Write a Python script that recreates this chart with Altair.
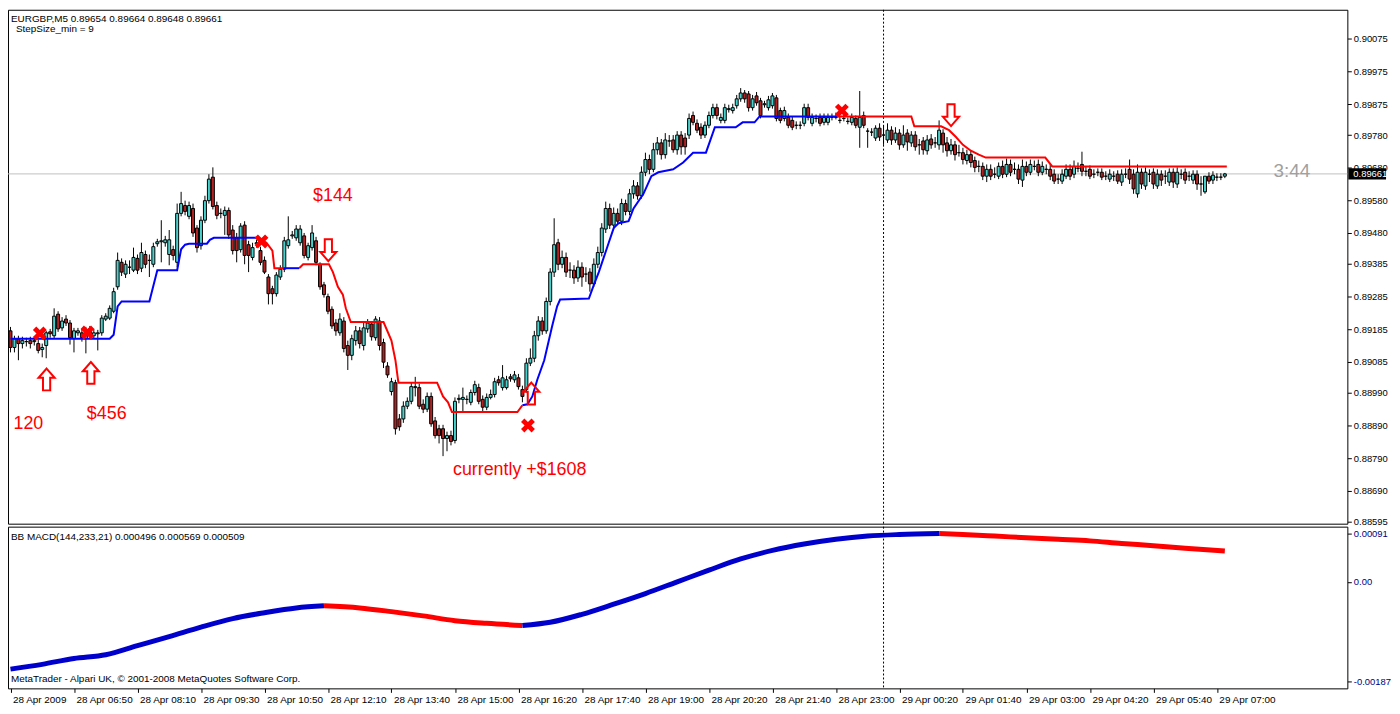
import altair as alt
import pandas as pd

W, H1, H2 = 1350, 518, 163
FONT = "Liberation Sans"
BULL, BEAR = "#48D1CC", "#B22222"

# ---------------- data (prices in points of 0.00001) ----------------
OPEN = [
 89180, 89129, 89156, 89141, 89147, 89150, 89147, 89141, 89123, 89135,
 89177, 89165, 89231, 89189, 89216, 89204, 89156, 89174, 89174, 89156,
 89186, 89165, 89171, 89174, 89216, 89219, 89240, 89315, 89390, 89354,
 89375, 89366, 89402, 89372, 89414, 89396, 89384, 89447, 89453, 89450,
 89414, 89429, 89390, 89540, 89564, 89531, 89555, 89495, 89441, 89519,
 89579, 89651, 89564, 89540, 89534, 89549, 89489, 89465, 89429, 89504,
 89444, 89405, 89447, 89426, 89396, 89345, 89309, 89294, 89345, 89369,
 89441, 89471, 89465, 89450, 89471, 89405, 89435, 89456, 89384, 89321,
 89285, 89246, 89204, 89174, 89210, 89135, 89105, 89150, 89180, 89135,
 89186, 89201, 89159, 89210, 89144, 89072, 88994, 89021, 88910, 88910,
 88949, 88964, 89006, 89006, 88955, 88940, 88979, 88904, 88880, 88880,
 88850, 88859, 88844, 88970, 88970, 88970, 88961, 88991, 89006, 88970,
 88946, 88976, 88985, 89030, 89006, 89006, 89039, 89030, 89036, 89000,
 89000, 89081, 89096, 89165, 89210, 89180, 89270, 89360, 89450, 89384,
 89405, 89366, 89366, 89342, 89375, 89354, 89360, 89324, 89384, 89420,
 89492, 89555, 89504, 89540, 89516, 89570, 89546, 89600, 89624, 89594,
 89666, 89705, 89675, 89735, 89756, 89720, 89762, 89765, 89735, 89780,
 89771, 89780, 89840, 89816, 89804, 89780, 89810, 89840, 89864, 89825,
 89825, 89858, 89855, 89870, 89891, 89909, 89906, 89864, 89900, 89885,
 89873, 89864, 89870, 89894, 89855, 89831, 89834, 89825, 89810, 89810,
 89816, 89864, 89816, 89831, 89834, 89819, 89819, 89834, 89834, 89825,
 89831, 89822, 89819, 89831, 89804, 89840, 89792, 89789, 89771, 89801,
 89780, 89765, 89795, 89765, 89786, 89750, 89786, 89756, 89780, 89750,
 89762, 89732, 89768, 89756, 89750, 89786, 89756, 89732, 89750, 89726,
 89726, 89702, 89720, 89702, 89684, 89684, 89654, 89675, 89660, 89654,
 89684, 89660, 89690, 89675, 89675, 89642, 89684, 89666, 89684, 89690,
 89666, 89675, 89675, 89660, 89645, 89639, 89654, 89675, 89660, 89678,
 89690, 89669, 89675, 89660, 89666, 89666, 89654, 89645, 89654, 89660,
 89636, 89660, 89675, 89660, 89600, 89666, 89624, 89660, 89666, 89624,
 89660, 89654, 89636, 89666, 89630, 89660, 89666, 89654, 89642, 89660,
 89630, 89606, 89654, 89642, 89651, 89651, 89654,
]
HIGH = [
 89192, 89165, 89165, 89162, 89159, 89162, 89162, 89153, 89141, 89180,
 89186, 89249, 89240, 89222, 89228, 89213, 89189, 89189, 89186, 89192,
 89195, 89186, 89183, 89228, 89234, 89258, 89312, 89420, 89402, 89396,
 89396, 89435, 89414, 89450, 89426, 89414, 89450, 89462, 89519, 89471,
 89489, 89441, 89570, 89606, 89579, 89576, 89570, 89504, 89531, 89594,
 89660, 89681, 89576, 89555, 89561, 89558, 89504, 89480, 89510, 89516,
 89456, 89450, 89459, 89438, 89408, 89354, 89318, 89360, 89381, 89468,
 89531, 89486, 89504, 89504, 89480, 89450, 89504, 89468, 89390, 89330,
 89294, 89255, 89216, 89234, 89222, 89150, 89168, 89195, 89192, 89204,
 89216, 89210, 89225, 89222, 89156, 89084, 89036, 89030, 88925, 88964,
 88976, 89021, 89039, 89018, 88970, 88991, 88991, 88916, 88892, 88892,
 88871, 88874, 88976, 88985, 89006, 88982, 89000, 89027, 89018, 88982,
 88988, 89000, 89036, 89042, 89075, 89042, 89048, 89057, 89048, 89012,
 89096, 89126, 89180, 89225, 89222, 89282, 89372, 89525, 89462, 89426,
 89420, 89390, 89381, 89396, 89390, 89375, 89372, 89402, 89438, 89510,
 89576, 89570, 89558, 89555, 89585, 89582, 89615, 89642, 89636, 89684,
 89726, 89720, 89756, 89774, 89768, 89786, 89780, 89780, 89792, 89792,
 89786, 89846, 89852, 89828, 89816, 89822, 89852, 89876, 89876, 89846,
 89876, 89873, 89876, 89903, 89924, 89918, 89915, 89903, 89912, 89894,
 89885, 89900, 89909, 89903, 89864, 89867, 89846, 89837, 89822, 89822,
 89876, 89876, 89846, 89843, 89846, 89846, 89846, 89846, 89849, 89837,
 89843, 89834, 89846, 89840, 89915, 89852, 89801, 89801, 89810, 89816,
 89810, 89816, 89807, 89804, 89798, 89810, 89798, 89792, 89792, 89768,
 89774, 89780, 89783, 89774, 89825, 89798, 89774, 89768, 89762, 89750,
 89741, 89735, 89732, 89714, 89702, 89696, 89690, 89690, 89681, 89696,
 89702, 89708, 89705, 89696, 89690, 89705, 89699, 89705, 89702, 89705,
 89699, 89690, 89690, 89675, 89660, 89675, 89690, 89690, 89702, 89696,
 89729, 89684, 89687, 89675, 89678, 89678, 89669, 89675, 89669, 89672,
 89675, 89678, 89705, 89675, 89690, 89678, 89681, 89675, 89678, 89675,
 89672, 89672, 89678, 89678, 89681, 89675, 89678, 89669, 89672, 89672,
 89654, 89654, 89666, 89669, 89663, 89663, 89664,
]
LOW = [
 89114, 89114, 89090, 89126, 89132, 89126, 89135, 89111, 89099, 89096,
 89159, 89156, 89177, 89180, 89195, 89138, 89114, 89165, 89147, 89111,
 89159, 89156, 89120, 89165, 89210, 89213, 89234, 89306, 89348, 89342,
 89354, 89360, 89354, 89360, 89372, 89345, 89375, 89438, 89390, 89438,
 89381, 89396, 89375, 89531, 89534, 89522, 89468, 89420, 89429, 89510,
 89570, 89552, 89522, 89525, 89474, 89462, 89414, 89390, 89420, 89384,
 89360, 89396, 89435, 89381, 89354, 89261, 89261, 89285, 89336, 89360,
 89432, 89462, 89456, 89441, 89402, 89396, 89426, 89381, 89306, 89282,
 89231, 89186, 89165, 89165, 89114, 89060, 89090, 89135, 89126, 89120,
 89174, 89150, 89150, 89120, 89066, 89036, 88982, 88862, 88874, 88898,
 88940, 88955, 88979, 88940, 88928, 88931, 88886, 88850, 88835, 88796,
 88811, 88829, 88835, 88958, 88931, 88955, 88952, 88982, 88955, 88934,
 88937, 88970, 88976, 89012, 88997, 89000, 89024, 89021, 89000, 88961,
 88991, 89072, 89084, 89150, 89168, 89171, 89258, 89345, 89366, 89372,
 89345, 89342, 89324, 89330, 89315, 89330, 89300, 89315, 89372, 89408,
 89480, 89492, 89492, 89504, 89504, 89534, 89534, 89585, 89582, 89585,
 89654, 89660, 89666, 89720, 89705, 89708, 89744, 89726, 89720, 89720,
 89720, 89768, 89810, 89786, 89768, 89771, 89801, 89831, 89828, 89816,
 89816, 89849, 89846, 89861, 89882, 89879, 89852, 89855, 89870, 89831,
 89864, 89855, 89861, 89822, 89816, 89822, 89801, 89795, 89798, 89798,
 89807, 89825, 89807, 89819, 89807, 89810, 89810, 89825, 89828, 89816,
 89822, 89813, 89810, 89801, 89741, 89801, 89741, 89777, 89762, 89762,
 89750, 89756, 89750, 89756, 89735, 89741, 89732, 89744, 89732, 89720,
 89720, 89720, 89738, 89741, 89735, 89726, 89714, 89720, 89702, 89714,
 89690, 89690, 89681, 89666, 89666, 89642, 89636, 89642, 89648, 89645,
 89648, 89651, 89654, 89660, 89630, 89621, 89654, 89657, 89672, 89654,
 89657, 89660, 89642, 89630, 89630, 89630, 89645, 89642, 89648, 89666,
 89654, 89654, 89645, 89648, 89654, 89642, 89642, 89636, 89639, 89630,
 89624, 89648, 89630, 89600, 89588, 89615, 89612, 89636, 89615, 89615,
 89624, 89630, 89624, 89618, 89618, 89645, 89630, 89639, 89630, 89612,
 89594, 89600, 89630, 89630, 89639, 89642, 89648,
]
CLOSE = [
 89129, 89156, 89141, 89150, 89147, 89141, 89150, 89120, 89129, 89174,
 89171, 89225, 89186, 89210, 89204, 89159, 89180, 89180, 89159, 89180,
 89171, 89174, 89174, 89219, 89225, 89249, 89300, 89396, 89360, 89384,
 89375, 89405, 89366, 89420, 89384, 89396, 89438, 89453, 89456, 89459,
 89459, 89411, 89540, 89570, 89546, 89564, 89480, 89435, 89519, 89579,
 89645, 89561, 89534, 89540, 89549, 89474, 89426, 89426, 89501, 89411,
 89411, 89435, 89450, 89390, 89360, 89294, 89294, 89351, 89369, 89456,
 89459, 89474, 89492, 89492, 89411, 89441, 89480, 89390, 89315, 89291,
 89240, 89195, 89180, 89216, 89126, 89105, 89156, 89180, 89141, 89189,
 89204, 89162, 89216, 89135, 89084, 89045, 89024, 88880, 88886, 88949,
 88964, 89009, 89009, 88949, 88940, 88979, 88895, 88859, 88859, 88850,
 88859, 88841, 88964, 88973, 88976, 88970, 88991, 89015, 88964, 88946,
 88976, 88985, 89024, 89021, 89036, 89030, 89033, 89045, 89009, 88979,
 89081, 89096, 89165, 89210, 89180, 89270, 89360, 89444, 89384, 89405,
 89360, 89366, 89342, 89375, 89345, 89354, 89324, 89384, 89420, 89495,
 89555, 89504, 89540, 89516, 89570, 89546, 89600, 89624, 89594, 89666,
 89705, 89675, 89735, 89756, 89720, 89765, 89762, 89735, 89780, 89744,
 89744, 89831, 89819, 89795, 89780, 89810, 89840, 89864, 89840, 89834,
 89864, 89861, 89864, 89891, 89909, 89891, 89864, 89891, 89879, 89840,
 89876, 89888, 89900, 89831, 89825, 89855, 89810, 89804, 89810, 89810,
 89864, 89834, 89834, 89831, 89816, 89834, 89834, 89834, 89837, 89825,
 89831, 89822, 89834, 89810, 89834, 89810, 89792, 89789, 89801, 89774,
 89780, 89795, 89765, 89786, 89750, 89780, 89759, 89780, 89744, 89750,
 89735, 89765, 89750, 89756, 89795, 89750, 89732, 89750, 89720, 89726,
 89705, 89720, 89696, 89681, 89684, 89654, 89675, 89654, 89660, 89684,
 89660, 89690, 89666, 89675, 89645, 89684, 89666, 89690, 89684, 89666,
 89684, 89675, 89654, 89639, 89645, 89660, 89675, 89654, 89684, 89678,
 89669, 89669, 89654, 89660, 89666, 89651, 89654, 89660, 89654, 89639,
 89660, 89660, 89645, 89615, 89666, 89630, 89666, 89660, 89630, 89660,
 89642, 89654, 89666, 89636, 89666, 89660, 89642, 89654, 89660, 89630,
 89630, 89654, 89639, 89657, 89651, 89651, 89661,
]

# trailing stop lines: (segment, bar, price points)
BLUE_TRAIL = [
 (1, 0, 89156), (1, 25, 89156), (1, 26, 89168), (1, 27, 89255), (1, 28, 89270),
 (1, 35, 89270), (1, 37, 89366), (1, 42, 89366), (1, 43, 89430), (1, 44, 89444),
 (1, 45, 89447), (1, 49.5, 89447), (1, 50.25, 89459), (1, 51.25, 89465), (1, 62.5, 89465),
 (2, 68.75, 89372), (2, 72.75, 89372),
 (3, 129, 88952), (3, 130.25, 88955), (3, 131.5, 88979), (3, 132.75, 89030),
 (3, 134.5, 89090), (3, 136.5, 89195), (3, 137.75, 89255), (3, 138.5, 89276),
 (3, 145.75, 89279), (3, 147, 89321), (3, 148.25, 89360), (3, 149.5, 89405),
 (3, 150.75, 89450), (3, 152, 89495), (3, 153.25, 89510), (3, 155.75, 89516),
 (3, 157, 89555), (3, 159.5, 89600), (3, 161.5, 89654), (3, 163.25, 89666),
 (3, 167, 89675), (3, 169.5, 89696), (3, 172, 89726), (3, 175.25, 89726),
 (3, 177.5, 89804), (3, 182.75, 89804), (3, 184.5, 89819), (3, 187.5, 89819),
 (3, 188.75, 89837), (3, 208.25, 89837),
]
RED_TRAIL = [
 (1, 62.5, 89465), (1, 64.5, 89450), (1, 66, 89426), (1, 66.5, 89372), (1, 68.75, 89372),
 (2, 72.75, 89372), (2, 73.75, 89384), (2, 80.25, 89384), (2, 81.25, 89360),
 (2, 82.5, 89315), (2, 83.75, 89291), (2, 84.5, 89249), (2, 85.75, 89207),
 (2, 94, 89207), (2, 96, 89150), (2, 97, 89090), (2, 97.75, 89021),
 (2, 107.5, 89021), (2, 109, 88979), (2, 110.25, 88961), (2, 111.25, 88931),
 (2, 127.75, 88931), (2, 129, 88952),
 (3, 208.25, 89837), (3, 227, 89837), (3, 227.75, 89807), (3, 234.5, 89807),
 (3, 236.5, 89795), (3, 238.25, 89774), (3, 240, 89750), (3, 242, 89732),
 (3, 244, 89720), (3, 245.75, 89711), (3, 260.75, 89711), (3, 262.5, 89684),
 (3, 306.5, 89684),
]

# signal markers: (bar, price points)
X_MARKS = [(7.4, 89172), (19.4, 89175), (63.25, 89454), (130.4, 88890), (209.5, 89855)]
UP_ARROWS = [(9.1, 89031), (20.25, 89051), (131.25, 88988)]
DOWN_ARROWS = [(80.1, 89427), (237, 89841)]

# red text notes: (bar, price points, text)
NOTES = [(0.75, 88895, "120"), (19.25, 88926, "$456"), (76.25, 89594, "$144"),
         (111.5, 88754, "currently +$1608")]

BID = 89661
COUNTDOWN = (318.25, 89669, "3:44")
VLINE_BAR = 220

# MACD (units of 0.00001)
MACD_BARS = [0, 8, 16, 24, 32, 40, 48, 56, 64, 72, 79, 88, 96, 104, 112, 120, 129,
             136, 144, 152, 160, 168, 176, 184, 192, 200, 208, 216, 224, 234, 240,
             248, 256, 264, 272, 280, 288, 296, 306]
MACD_VALS = [-164, -155, -144, -137, -120, -103, -85, -69, -58, -49, -45, -49, -56,
             -64, -73, -78, -82, -76, -61, -42, -22, 0, 22, 43, 59, 71, 80, 86, 89,
             91, 89, 86, 83, 80, 77, 72, 68, 63, 58]
MACD_TURNS = [79, 129, 234]
MACD_COLORS = ["rising", "falling", "rising", "falling"]

Y_TICKS = [0.90075, 0.89975, 0.89875, 0.89780, 0.89680, 0.89580, 0.89480, 0.89385,
           0.89285, 0.89185, 0.89085, 0.88990, 0.88890, 0.88790, 0.88690, 0.88595]
MACD_TICKS = [0.00091, 0.0, -0.00187]
X_TICK_LABELS = ["28 Apr 2009", "28 Apr 06:50", "28 Apr 08:10", "28 Apr 09:30",
                 "28 Apr 10:50", "28 Apr 12:10", "28 Apr 13:40", "28 Apr 15:00",
                 "28 Apr 16:20", "28 Apr 17:40", "28 Apr 19:00", "28 Apr 20:20",
                 "28 Apr 21:40", "28 Apr 23:00", "29 Apr 00:20", "29 Apr 01:40",
                 "29 Apr 03:00", "29 Apr 04:20", "29 Apr 05:40", "29 Apr 07:00"]
X_TICK_STEP = 16

HEADER1 = "EURGBP,M5  0.89654 0.89664 0.89648 0.89661"
HEADER2 = "StepSize_min = 9"
MACD_TITLE = "BB MACD(144,233,21) 0.000496 0.000569 0.000509"
FOOTER = "MetaTrader - Alpari UK, \u00a9 2001-2008 MetaQuotes Software Corp."

# ---------------- frames ----------------
P = 1e5
n = min(len(OPEN), len(HIGH), len(LOW), len(CLOSE))
candles = pd.DataFrame({
    "bar": list(range(n)),
    "open": [v / P for v in OPEN[:n]],
    "high": [v / P for v in HIGH[:n]],
    "low": [v / P for v in LOW[:n]],
    "close": [v / P for v in CLOSE[:n]],
})
candles["dir"] = ["up" if c >= o else "down" for o, c in zip(candles["open"], candles["close"])]

blue_df = pd.DataFrame([{"seg": s, "bar": b, "p": v / P} for s, b, v in BLUE_TRAIL])
red_df = pd.DataFrame([{"seg": s, "bar": b, "p": v / P} for s, b, v in RED_TRAIL])
x_df = pd.DataFrame([{"bar": b, "p": v / P} for b, v in X_MARKS])
up_df = pd.DataFrame([{"bar": b, "p": v / P} for b, v in UP_ARROWS])
dn_df = pd.DataFrame([{"bar": b, "p": v / P} for b, v in DOWN_ARROWS])
note_df = pd.DataFrame([{"bar": b, "p": v / P, "t": t} for b, v, t in NOTES])

edges = [-1e9] + MACD_TURNS + [1e9]
mrows = []
for s in range(len(MACD_COLORS)):
    for b, v in zip(MACD_BARS, MACD_VALS):
        if edges[s] <= b <= edges[s + 1]:
            mrows.append({"bar": b, "v": v / P, "seg": s, "col": MACD_COLORS[s]})
macd_df = pd.DataFrame(mrows)

# ---------------- scales / axes ----------------
xs = alt.Scale(domain=[-0.625, W / 4 - 0.625], nice=False, zero=False)
ys = alt.Scale(domain=[0.88589, 0.90164], nice=False, zero=False)
ym = alt.Scale(domain=[-0.002002, 0.001037], nice=False, zero=False)

yax_top = alt.Axis(orient="right", values=Y_TICKS, format=".5f", tickSize=4,
                   tickColor="black", domain=False, grid=False, title=None,
                   labelFont=FONT, labelFontSize=9.5, labelColor="black",
                   labelPadding=2, labelOverlap=False, labelBound=False)
yax_low = alt.Axis(orient="right", values=MACD_TICKS, tickSize=4, tickColor="black",
                   domain=False, grid=False, title=None, labelFont=FONT,
                   labelFontSize=9.5, labelColor="#000080", labelPadding=2,
                   labelOverlap=False,
                   labelExpr="datum.value > 0.0005 ? '0.00091' : (datum.value < -0.001 ? '-0.00187' : '0.00')")
lbl_js = "[" + ",".join("'" + s + "'" for s in X_TICK_LABELS) + "][round(datum.value/%d)]" % X_TICK_STEP
xax_low = alt.Axis(values=[i * X_TICK_STEP for i in range(len(X_TICK_LABELS))],
                   labelExpr=lbl_js, labelAlign="left", labelOffset=2, tickSize=4,
                   tickColor="black", domain=False, grid=False, title=None,
                   labelFont=FONT, labelFontSize=10, labelColor="black",
                   labelPadding=2, labelOverlap=False, labelFlush=False, labelBound=False)

XT = lambda f="bar": alt.X(f + ":Q", scale=xs, axis=None)
YT = lambda f="p": alt.Y(f + ":Q", scale=ys, axis=yax_top)

UP_PATH = "M0,-1L0.74,-0.15L0.33,-0.15L0.33,1L-0.33,1L-0.33,-0.15L-0.74,-0.15Z"
DN_PATH = "M0,1L0.74,0.15L0.33,0.15L0.33,-1L-0.33,-1L-0.33,0.15L-0.74,0.15Z"
X_PATH = "M-1,-0.32H-0.32V-1H0.32V-0.32H1V0.32H0.32V1H-0.32V0.32H-1Z"
BOX_PATH = "M-1,-0.3H1V0.3H-1Z"

bid_df = pd.DataFrame({"p": [BID / P], "t": ["%.5f" % (BID / P)]})

# ---------------- top panel ----------------
bid_line = alt.Chart(bid_df).mark_rule(color="#C0C0C0", strokeWidth=1).encode(y=YT())
vline_top = alt.Chart(pd.DataFrame({"bar": [VLINE_BAR]})).mark_rule(
    color="black", strokeDash=[2, 2], strokeWidth=1).encode(x=XT())
wicks = alt.Chart(candles).mark_rule(color="black", strokeWidth=1).encode(
    x=XT(), y=YT("low"), y2="high:Q")
bodies = alt.Chart(candles).transform_calculate(
    x0="datum.bar - 0.375", x1="datum.bar + 0.375"
).mark_rect(stroke="black", strokeWidth=1).encode(
    x=XT("x0"), x2="x1:Q", y=YT("open"), y2="close:Q",
    fill=alt.Fill("dir:N", scale=alt.Scale(domain=["up", "down"], range=[BULL, BEAR]), legend=None))
blue_line = alt.Chart(blue_df).mark_line(color="#0000FF", strokeWidth=2).encode(
    x=XT(), y=YT(), detail="seg:N")
red_line = alt.Chart(red_df).mark_line(color="#FF0000", strokeWidth=2).encode(
    x=XT(), y=YT(), detail="seg:N")
xmarks = alt.Chart(x_df).mark_point(shape=X_PATH, angle=45, size=225, filled=True,
                                    color="#FF0000", opacity=1, strokeWidth=0).encode(x=XT(), y=YT())
ups = alt.Chart(up_df).mark_point(shape=UP_PATH, size=484, filled=False, stroke="#FF0000",
                                  strokeWidth=2, opacity=1).encode(x=XT(), y=YT())
dns = alt.Chart(dn_df).mark_point(shape=DN_PATH, size=484, filled=False, stroke="#FF0000",
                                  strokeWidth=2, opacity=1).encode(x=XT(), y=YT())
notes = alt.Chart(note_df).mark_text(align="left", baseline="middle", font=FONT,
                                     fontSize=18, color="#FF0000").encode(x=XT(), y=YT(), text="t:N")
cd_df = pd.DataFrame({"bar": [COUNTDOWN[0]], "p": [COUNTDOWN[1] / P], "t": [COUNTDOWN[2]]})
countdown = alt.Chart(cd_df).mark_text(align="left", baseline="middle", font=FONT,
                                       fontSize=19, color="#A0A0A0").encode(x=XT(), y=YT(), text="t:N")
head1 = alt.Chart(pd.DataFrame({"t": [HEADER1]})).mark_text(
    align="left", baseline="middle", font=FONT, fontSize=10, color="black").encode(
    x=alt.value(3), y=alt.value(9), text="t:N")
head2 = alt.Chart(pd.DataFrame({"t": [HEADER2]})).mark_text(
    align="left", baseline="middle", font=FONT, fontSize=10, color="black").encode(
    x=alt.value(8), y=alt.value(19), text="t:N")
price_box = alt.Chart(bid_df).mark_point(shape=BOX_PATH, size=38 * 38, filled=True,
                                         color="black", opacity=1, strokeWidth=0).encode(
    x=alt.value(W + 20), y=YT())
price_txt = alt.Chart(bid_df).mark_text(align="left", baseline="middle", font=FONT,
                                        fontSize=9.5, color="white").encode(
    x=alt.value(W + 6), y=YT(), text="t:N")

top = alt.layer(bid_line, vline_top, wicks, bodies, blue_line, red_line, xmarks, ups, dns,
                notes, countdown, head1, head2, price_box, price_txt).properties(width=W, height=H1)

# ---------------- bottom panel ----------------
XB = lambda f="bar": alt.X(f + ":Q", scale=xs, axis=xax_low)
YB = lambda f="v": alt.Y(f + ":Q", scale=ym, axis=yax_low)

macd_line = alt.Chart(macd_df).mark_line(strokeWidth=5, interpolate="monotone").encode(
    x=XB(), y=YB(), detail="seg:N",
    color=alt.Color("col:N", scale=alt.Scale(domain=["rising", "falling"], range=["#0000CD", "#FF0000"]), legend=None))
vline_low = alt.Chart(pd.DataFrame({"bar": [VLINE_BAR]})).mark_rule(
    color="black", strokeDash=[2, 2], strokeWidth=1).encode(x=XB())
mtitle = alt.Chart(pd.DataFrame({"t": [MACD_TITLE]})).mark_text(
    align="left", baseline="middle", font=FONT, fontSize=10, color="black").encode(
    x=alt.value(3), y=alt.value(10), text="t:N")
footer = alt.Chart(pd.DataFrame({"t": [FOOTER]})).mark_text(
    align="left", baseline="middle", font=FONT, fontSize=10, color="black").encode(
    x=alt.value(3), y=alt.value(H2 - 9), text="t:N")

bottom = alt.layer(vline_low, macd_line, mtitle, footer).properties(width=W, height=H2)

PAD = {"left": -8, "top": -2, "right": 0, "bottom": 0}
chart = alt.vconcat(top, bottom, spacing=3, bounds="flush").properties(
    padding=PAD, background="white"
).configure(padding=PAD).configure_view(stroke="black", strokeWidth=1)

chart.save("out.html", embed_options={"renderer": "svg", "actions": False})
